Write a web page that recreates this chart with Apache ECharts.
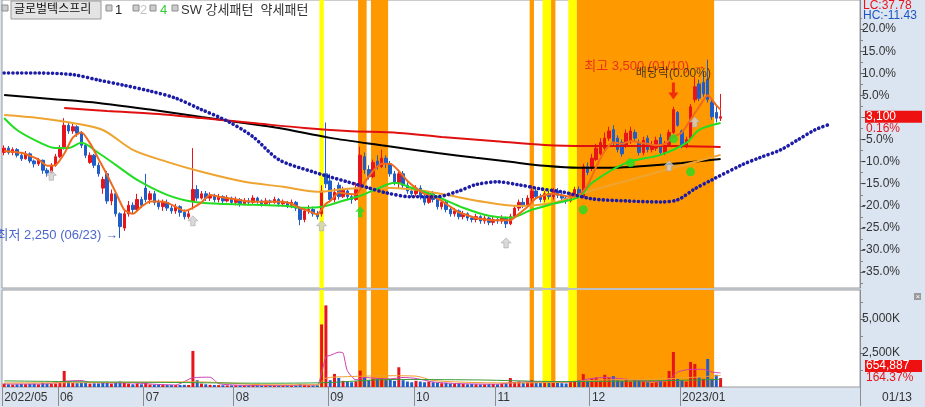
<!DOCTYPE html>
<html><head><meta charset="utf-8">
<script src="https://cdn.jsdelivr.net/npm/echarts@6/dist/echarts.min.js"></script>
<style>html,body{margin:0;padding:0;background:#dbe5f1}#c{width:925px;height:407px}</style>
</head><body><div id="c"></div><script>
// ---------- DATA ----------
const may = [13,16,17,18,19,20,23,24,25,26,27,30,31];
const jun = [2,3,7,8,9,10,13,14,15,16,17,20,21,22,23,24,27,28,29,30];
const jul = [1,4,5,6,7,8,11,12,13,14,15,18,19,20,21,22,25,26,27,28,29];
const aug = [1,2,3,4,5,8,9,10,11,12,16,17,18,19,22,23,24,25,26,29,30,31];
const sep = [1,2,5,6,7,8,13,14,15,16,19,20,21,22,23,26,27,28,29,30];
const oct = [4,5,6,7,11,12,13,14,17,18,19,20,21,24,25,26,27,28,31];
const nov = [1,2,3,4,7,8,9,10,11,14,15,16,17,18,21,22,23,24,25,28,29,30];
const dec = [1,2,5,6,7,8,9,12,13,14,15,16,19,20,21,22,23,26,27,28,29];
const jan = [2,3,4,5,6,9,10,11,12,13];

// [open, close, low, high]
const ohlc = [
[2850,2880,2830,2900],[2880,2850,2835,2895],[2850,2870,2830,2885],[2870,2830,2815,2880],[2830,2805,2790,2845],
[2805,2840,2800,2860],[2840,2790,2775,2850],[2790,2770,2745,2800],[2770,2795,2755,2810],[2795,2725,2700,2800],
[2725,2705,2680,2740],[2705,2760,2700,2775],[2760,2820,2750,2840],[2820,2880,2810,2900],[2880,3040,2870,3090],
[3040,3000,2980,3060],[3000,3030,2980,3050],[3030,2985,2960,3040],[2985,2900,2880,3000],[2900,2830,2810,2910],
[2780,2830,2770,2850],[2830,2760,2740,2840],[2760,2700,2680,2780],[2600,2660,2560,2680],[2700,2510,2490,2720],
[2510,2560,2480,2590],[2560,2420,2400,2570],[2420,2330,2250,2430],[2320,2420,2300,2440],[2420,2480,2400,2510],
[2480,2450,2420,2500],[2450,2520,2440,2560],[2520,2480,2460,2540],[2600,2520,2500,2700],[2520,2560,2490,2580],
[2560,2500,2480,2580],[2500,2470,2450,2520],[2470,2500,2440,2520],[2500,2460,2440,2520],[2460,2440,2420,2480],
[2440,2470,2420,2490],[2470,2430,2400,2480],[2430,2400,2380,2450],[2400,2420,2385,2440],[2510,2590,2450,2880],
[2590,2530,2510,2620],[2530,2560,2520,2580],[2560,2530,2510,2580],[2530,2550,2510,2570],[2550,2520,2500,2560],
[2520,2540,2500,2560],[2540,2510,2490,2550],[2510,2530,2500,2550],[2530,2500,2490,2540],[2500,2520,2480,2540],
[2520,2490,2470,2530],[2490,2510,2480,2530],[2510,2500,2480,2530],[2500,2530,2490,2550],[2530,2510,2490,2540],
[2510,2490,2470,2520],[2490,2510,2480,2530],[2510,2500,2480,2520],[2500,2520,2490,2540],[2520,2490,2470,2530],
[2490,2500,2470,2520],[2500,2480,2460,2510],[2480,2500,2460,2520],[2500,2460,2440,2510],[2460,2380,2340,2470],
[2380,2440,2360,2460],[2440,2450,2420,2480],[2450,2420,2400,2470],[2420,2400,2380,2440],[2420,2580,2400,2620],
[2700,2630,2600,3060],[2650,2520,2500,2700],[2520,2570,2500,2600],[2620,2540,2520,2640],[2540,2590,2530,2610],
[2580,2540,2520,2600],[2540,2520,2490,2560],[2520,2600,2510,2640],[2600,2830,2590,2890],[2820,2730,2700,2850],
[2730,2680,2660,2760],[2680,2780,2670,2800],[2790,2750,2730,2830],[2750,2810,2740,2870],[2810,2770,2740,2830],
[2770,2700,2680,2790],[2700,2640,2620,2720],[2640,2700,2600,2730],[2700,2620,2600,2720],[2620,2580,2560,2640],
[2580,2560,2540,2600],[2560,2600,2540,2620],[2600,2540,2520,2620],[2540,2500,2480,2560],[2500,2560,2490,2580],
[2560,2520,2500,2580],[2520,2470,2450,2530],[2470,2500,2450,2520],[2500,2450,2430,2510],[2450,2420,2400,2470],
[2420,2440,2400,2460],[2440,2400,2380,2450],[2400,2420,2380,2440],[2420,2390,2370,2430],[2390,2380,2360,2400],
[2380,2400,2360,2420],[2400,2370,2350,2410],[2370,2390,2350,2410],[2390,2360,2340,2400],[2360,2380,2340,2400],
[2380,2370,2350,2400],[2370,2390,2350,2410],[2390,2350,2320,2400],[2350,2400,2340,2420],[2400,2460,2390,2480],
[2460,2500,2440,2520],[2500,2480,2460,2530],[2480,2530,2470,2550],[2530,2580,2500,2620],[2580,2540,2520,2600],
[2540,2520,2500,2560],[2520,2560,2500,2580],[2560,2540,2520,2580],[2540,2580,2520,2600],[2580,2550,2530,2600],
[2550,2530,2510,2570],[2530,2510,2490,2550],[2510,2550,2500,2570],[2550,2590,2530,2610],[2590,2560,2540,2610],
[2540,2750,2530,2770],[2750,2710,2690,2780],
// December
[2740,2810,2720,2840],[2800,2880,2790,2910],[2840,2920,2830,2950],[2880,2950,2860,2990],[2950,3000,2930,3030],
[3010,2920,2900,3040],[2950,2870,2850,2970],[2920,2840,2820,2940],[2900,2985,2880,3010],[2930,3000,2910,3030],
[2990,2950,2930,3010],[2920,2850,2830,2940],[2850,2935,2830,2960],[2950,2870,2850,2970],[2870,2900,2850,2930],
[2880,2935,2860,2960],[2955,2850,2830,2980],[2850,2900,2830,2930],[2905,2990,2890,3010],[2990,3150,2980,3170],
[3130,3040,3030,3140],
// January
[3000,2900,2880,3010],[2900,2940,2880,2960],[2950,3170,2940,3190],[3220,3310,3200,3380],[3330,3230,3210,3360],
[3340,3260,3240,3420],[3360,3220,3200,3500],[3200,3100,3080,3230],[3130,3090,3060,3180],[3090,3100,3070,3260]
];
// volume, thousand shares
const volK = [
250,200,180,200,220,210,230,240,200,300,250,220,260,
320,1180,400,300,280,300,320,250,270,260,300,380,250,330,400,300,250,200,260,200,
300,180,170,160,150,150,140,140,150,160,150,2650,500,250,200,160,150,140,130,120,120,
130,120,110,110,130,120,110,100,100,110,110,100,110,100,130,220,160,120,120,130,4600,6000,
500,960,660,450,400,350,420,1200,700,500,600,600,650,500,550,450,1450,500,400,350,
450,400,350,400,350,300,280,300,250,230,250,220,200,220,200,190,200,210,220,
200,230,260,660,350,400,300,350,500,350,300,400,350,400,300,280,260,400,450,500,950,500,
600,700,500,900,700,800,500,450,550,400,500,450,400,350,300,350,450,400,1180,2570,600,
500,400,1840,1690,700,600,2060,600,900,654.887
];
// moving-average lines: [day index, price]
const ma5 = [[0,2860],[2,2855],[4,2847],[6,2827],[8,2800],[10,2757],[12,2761],[14,2841],[16,2954],[18,2991],[20,2915],[22,2804],[24,2692],[26,2570],[28,2448],[30,2420],[32,2470],[34,2506],[36,2506],[38,2498],[40,2468],[42,2440],[44,2462],[46,2500],[48,2552],[50,2540],[53,2525],[56,2510],[59,2505],[62,2505],[65,2505],[67,2490],[69,2460],[71,2440],[73,2415],[74,2450],[75,2490],[76,2510],[77,2540],[78,2570],[80,2560],[82,2555],[84,2640],[86,2720],[88,2770],[90,2770],[92,2720],[94,2650],[96,2600],[98,2560],[100,2540],[102,2510],[104,2470],[106,2430],[108,2410],[110,2390],[112,2380],[114,2375],[116,2375],[118,2375],[120,2420],[122,2470],[124,2530],[126,2550],[128,2560],[130,2550],[132,2540],[134,2550],[136,2620],[138,2750],[140,2860],[142,2920],[144,2910],[146,2930],[148,2920],[150,2910],[152,2900],[154,2910],[156,2960],[158,2990],[160,3080],[162,3170],[164,3250],[166,3180],[167,3150]];
const maGreen = [[0,3091],[3,3007],[8,2924],[12,2881],[15,2881],[18,2917],[22,2846],[26,2763],[31,2658],[38,2553],[44,2504],[50,2490],[58,2483],[65,2476],[70,2462],[74,2469],[79,2511],[83,2546],[88,2609],[91,2637],[95,2602],[101,2539],[107,2462],[113,2406],[118,2392],[123,2448],[128,2490],[134,2538],[137,2636],[145,2777],[153,2833],[159,2917],[162,3008],[167,3056]];
const maGold = [[0,3112],[8,3091],[16,3056],[23,3007],[30,2868],[38,2784],[46,2714],[56,2644],[65,2609],[73,2574],[80,2595],[88,2602],[96,2588],[103,2553],[112,2503],[120,2475],[128,2497],[136,2574],[146,2658],[156,2742],[167,2833]];
const maBlack = [[0,3252],[11,3225],[22,3197],[34,3150],[46,3098],[55,3060],[64,3021],[76,2952],[88,2900],[101,2846],[110,2812],[118,2784],[126,2756],[134,2742],[142,2742],[150,2756],[158,2776],[167,2804]];
const maRed = [[14,3162],[24,3140],[36,3119],[46,3091],[58,3056],[70,3021],[80,3000],[92,2986],[102,2958],[114,2930],[126,2902],[136,2895],[146,2895],[156,2895],[167,2888]];
const leadDots = [[0,3406],[8,3406],[16,3395],[22,3357],[28,3320],[34,3280],[40,3230],[46,3150],[52,3070],[58,2960],[64,2800],[72,2714],[80,2644],[85,2601],[89,2567],[95,2539],[101,2540],[106,2580],[110,2625],[115,2644],[120,2623],[125,2595],[130,2574],[137,2525],[145,2510],[153,2503],[157,2518],[161,2595],[165,2658],[172,2763],[176,2812],[181,2868],[185,2938],[189,3008],[192,3043]];
const volPink = [[0,220],[5,220],[10,230],[14,420],[18,480],[20,330],[25,300],[30,300],[35,200],[40,150],[44,680],[48,720],[50,250],[55,130],[60,115],[65,105],[70,140],[73,150],[74,1030],[75,2220],[76,2320],[78,2560],[79,2500],[80,1200],[82,530],[84,700],[87,630],[90,600],[93,700],[96,630],[100,370],[105,260],[110,220],[115,210],[118,320],[122,380],[126,380],[130,350],[134,420],[136,580],[140,700],[144,600],[148,470],[152,380],[155,550],[157,1100],[160,1300],[163,1300],[165,1100],[167,1030]];
const volOrange = [[0,300],[20,320],[44,380],[50,330],[60,170],[73,160],[75,650],[80,760],[90,830],[96,800],[100,480],[110,330],[120,300],[130,360],[140,520],[150,550],[160,700],[167,850]];
const volGreen = [[0,450],[20,380],[40,330],[60,280],[75,320],[90,550],[110,520],[130,400],[150,450],[167,560]];
// signal marks [day index, price]
const grayArrows = [[11,2690],[44,2371],[74,2336],[117,2216],[155,2756],[161,3064]];
const greenArrows = [[83,2434]];
const greenDots = [[135,2448],[146,2777],[156,2945],[160,2714]];
const exDivArrow = [[156,3280]];
// pattern bands (day index ranges)
const yellowBands = [[74,74],[126,127],[132,133]];
const orangeBands = [[83,84],[86,89],[123,123],[128,128],[134,165]];
// axis ticks
const pctTicks = [20,15,10,5,-5,-10,-15,-20,-25,-30,-35];
const pctMinor = [22.5,17.5,12.5,7.5,2.5,0,-2.5,-7.5,-12.5,-17.5,-22.5,-27.5,-32.5,-37.5];
const volTicks = [2500,5000];
const volMinor = [1250,3750,6250];
const prevClose = 3095, lowPrice = 2250, highPrice = 3500, lastClose = 3100, lastVolPct = '164.37%';

// ---------- BUILD ----------
const dates = [];
[['2022/05',may],['2022/06',jun],['2022/07',jul],['2022/08',aug],['2022/09',sep],['2022/10',oct],['2022/11',nov],['2022/12',dec],['2023/01',jan]]
  .forEach(([m, ds]) => ds.forEach(d => dates.push(m + '/' + String(d).padStart(2,'0'))));
const N = 200;
const cats = dates.slice();
for (let k = dates.length; k < N; k++) cats.push('+' + (k - dates.length + 1));
const monthLab = cats.map((c, i) => {
  if (i >= dates.length) return '';
  const prev = i ? dates[i-1] : '';
  if (prev.slice(0,7) === c.slice(0,7)) return '';
  return prev.slice(0,4) !== c.slice(0,4) ? c.slice(0,7) : c.slice(5,7);
});
const isMonth = (i) => monthLab[i] !== '';
const RED = '#e8141b', BLUE = '#1f5ec8';
const bandRanges = yellowBands.map(r => [r[0], r[1], 0]).concat(orangeBands.map(r => [r[0], r[1], 1]));
const bandRender = (params, api) => {
  const s = api.coord([api.value(0), 0]);
  const e = api.coord([api.value(1), 0]);
  const w = api.size([1, 0])[0];
  const cs = params.coordSys;
  return {type:'rect', shape:{x: s[0] - w/2, y: cs.y, width: e[0] - s[0] + w, height: cs.height},
          style:{fill: api.value(2) ? '#ff9900' : '#ffff00'}};
};
const volData = volK.map((v, i) => {
  const cur = ohlc[i] || ohlc[ohlc.length-1];
  const prv = i ? (ohlc[i-1] || cur) : null;
  const up = prv ? cur[1] >= prv[1] : cur[1] >= cur[0];
  return {value: v, itemStyle: {color: up ? RED : BLUE}};
});
const FONT = "'Liberation Sans','Noto Sans CJK KR',sans-serif";
const pct = v => ((v / prevClose - 1) * 100).toFixed(1) + '%';
const toPrice = p => prevClose * (1 + p / 100);
const arrowUp = 'path://M5,0 L10,5 L7.2,5 L7.2,10 L2.8,10 L2.8,5 L0,5 Z';
const arrowDown = 'path://M3.5,0 L6.5,0 L6.5,10 L10,10 L5,17 L0,10 L3.5,10 Z';

const chart = echarts.init(document.getElementById('c'));
const line = (name, data, color, width, extra) => Object.assign({
  type:'line', name, data, xAxisIndex:0, yAxisIndex:0, symbol:'none', smooth:0.3, z:3, silent:true,
  lineStyle:{color, width} }, extra || {});

const option = {
  animation: false,
  backgroundColor: '#dbe5f1',
  textStyle: {fontFamily: FONT},
  grid: [
    {left:2, right:65, top:0, height:288, show:true, backgroundColor:'#fff', borderColor:'#9a9a9a', borderWidth:1, outerBoundsMode:'none'},
    {left:2, right:65, top:290, height:97, show:true, backgroundColor:'#fff', borderColor:'#9a9a9a', borderWidth:1, outerBoundsMode:'none'}
  ],
  xAxis: [
    {type:'category', gridIndex:0, data:cats, boundaryGap:true, axisLine:{show:false}, axisTick:{show:false}, axisLabel:{show:false}},
    {type:'category', gridIndex:1, data:cats, boundaryGap:true, axisLine:{show:false},
     axisTick:{show:true, interval:isMonth, length:19, lineStyle:{color:'#8c8c8c'}},
     axisLabel:{show:true, interval:isMonth, formatter:(v,i)=>monthLab[i], align:'left', margin:5, color:'#333', fontSize:12, fontFamily:FONT}}
  ],
  yAxis: [
    {type:'value', gridIndex:0, position:'right', min:1900, max:3918, splitLine:{show:false},
     axisLine:{show:true, lineStyle:{color:'#8c8c8c'}},
     axisTick:{show:true, length:5, customValues: pctTicks.concat([0]).map(toPrice), lineStyle:{color:'#666'}},
     axisLabel:{show:true, customValues: pctTicks.map(toPrice), formatter: pct, color:'#333', fontSize:12, margin:2, fontFamily:FONT}},
    {type:'value', gridIndex:0, position:'right', min:1900, max:3918, splitLine:{show:false}, axisLine:{show:false},
     axisTick:{show:true, length:3, customValues: pctMinor.map(toPrice), lineStyle:{color:'#888'}}, axisLabel:{show:false}},
    {type:'value', gridIndex:0, min:0, max:1, show:false},
    {type:'value', gridIndex:1, position:'right', min:0, max:7130, splitLine:{show:false},
     axisLine:{show:true, lineStyle:{color:'#8c8c8c'}},
     axisTick:{show:true, length:5, customValues: volTicks, lineStyle:{color:'#666'}},
     axisLabel:{show:true, customValues: volTicks, formatter: v => v.toLocaleString('en-US') + 'K', color:'#333', fontSize:12, margin:2, fontFamily:FONT}},
    {type:'value', gridIndex:1, position:'right', min:0, max:7130, splitLine:{show:false}, axisLine:{show:false},
     axisTick:{show:true, length:3, customValues: volMinor, lineStyle:{color:'#888'}}, axisLabel:{show:false}},
    {type:'value', gridIndex:1, min:0, max:1, show:false}
  ],
  series: [
    {type:'custom', name:'bands', xAxisIndex:0, yAxisIndex:2, data:bandRanges, renderItem:bandRender, z:0, silent:true, encode:{x:[0,1], y:2}},
    {type:'custom', name:'bandsV', xAxisIndex:1, yAxisIndex:5, data:bandRanges, renderItem:bandRender, z:0, silent:true, encode:{x:[0,1], y:2}},
    {type:'candlestick', name:'price', xAxisIndex:0, yAxisIndex:0, data:ohlc, barWidth:3, z:2, silent:true,
     itemStyle:{color:RED, color0:BLUE, borderColor:RED, borderColor0:BLUE, borderWidth:1}},
    line('ma120', maBlack, '#000000', 2),
    line('ma240', maRed, '#e01010', 2),
    line('ma60', maGold, '#efa431', 2),
    line('ma20', maGreen, '#22dd22', 2),
    line('ma5', ma5, '#f26a1b', 2, {smooth:0.2}),
    line('lead', leadDots, '#1c1ca6', 3.6, {lineStyle:{color:'#1c1ca6', width:3.6, type:[0.1,4.3], cap:'round'}}),
    {type:'scatter', name:'gray', xAxisIndex:0, yAxisIndex:0, data:grayArrows, symbol:arrowUp, symbolSize:[10,10], z:4, silent:true,
     itemStyle:{color:'#cfcfcf', borderColor:'#a8a8a8', borderWidth:0.8}},
    {type:'scatter', name:'greenA', xAxisIndex:0, yAxisIndex:0, data:greenArrows, symbol:arrowUp, symbolSize:[10,11], z:4, silent:true,
     itemStyle:{color:'#22dd22'}},
    {type:'scatter', name:'greenD', xAxisIndex:0, yAxisIndex:0, data:greenDots, symbol:'circle', symbolSize:9, z:4, silent:true,
     itemStyle:{color:'#22dd22'}},
    {type:'scatter', name:'exdiv', xAxisIndex:0, yAxisIndex:0, data:exDivArrow, symbol:arrowDown, symbolSize:[10,17], z:4, silent:true,
     itemStyle:{color:'#ee1111'}},
    {type:'scatter', name:'notes', xAxisIndex:0, yAxisIndex:0, symbolSize:0, z:6, silent:true,
     data:[
      {value:[164, highPrice - 45], label:{show:true, position:'left', distance:2, formatter:'최고 3,500 (01/10) →', color:'#e8141b', fontSize:13}},
      {value:[27, lowPrice + 15], label:{show:true, position:'left', distance:2, formatter:'최저 2,250 (06/23) →', color:'#1a3fc0', fontSize:13}},
      {value:[156, 3405], label:{show:true, position:'inside', formatter:'배당락(0.00%)', color:'#222', fontSize:12}}
     ]},
    {type:'bar', name:'vol', xAxisIndex:1, yAxisIndex:3, data:volData, barWidth:3, z:2, silent:true},
    {type:'line', name:'vma5', xAxisIndex:1, yAxisIndex:3, data:volPink, symbol:'none', smooth:0.2, z:3, lineStyle:{color:'#cc3fb0', width:1}},
    {type:'line', name:'vma20', xAxisIndex:1, yAxisIndex:3, data:volOrange, symbol:'none', smooth:0.3, z:3, lineStyle:{color:'#f0a030', width:1}},
    {type:'line', name:'vma60', xAxisIndex:1, yAxisIndex:3, data:volGreen, symbol:'none', smooth:0.3, z:3, lineStyle:{color:'#3a9a3a', width:1}}
  ]
};
chart.setOption(option);

// ---------- text overlays ----------
const T = (x, y, text, fill, size, extra) => Object.assign({type:'text', x, y, z:100,
  style:{text, fill, font: (size||12) + 'px ' + FONT, verticalAlign:'middle'}}, extra || {});
const sq = x => ({type:'rect', z:100, shape:{x, y:5, width:6, height:6}, style:{fill:'#cdcdcd', stroke:'#8e8e8e', lineWidth:1}});
const yC = chart.convertToPixel({yAxisIndex:0}, lastClose);
const yV = Math.min(chart.convertToPixel({yAxisIndex:3}, volK[volK.length-1]), 387 - 21);
const graphics = [
  sq(2),
  {type:'rect', z:100, shape:{x:11, y:1, width:90, height:18}, style:{fill:'#e4e4e4', stroke:'#9a9a9a', lineWidth:1}},
  T(14, 10, '글로벌텍스프리', '#111', 12),
  sq(106), T(115, 10, '1', '#222', 13),
  sq(133), T(140, 10, '2', '#c4c4c4', 13),
  sq(150), T(160, 10, '4', '#33cc33', 13),
  sq(172), T(181, 10, 'SW 강세패턴  약세패턴', '#333', 13),
  {type:'rect', z:100, shape:{x:862, y:0, width:62, height:21}, style:{fill:'#dbe5f1'}},
  T(863, 6, 'LC:37.78', '#e8141b', 12),
  T(863, 16, 'HC:-11.43', '#1f55c0', 12),
  {type:'rect', z:100, shape:{x:865, y:yC-6, width:57, height:12}, style:{fill:'#ee1111'}},
  T(866, yC, lastClose.toLocaleString('en-US'), '#fff', 12),
  T(866, yC + 12, ((lastClose/prevClose-1)*100).toFixed(2) + '%', '#e8141b', 12),
  {type:'rect', z:100, shape:{x:865, y:yV-6, width:57, height:12}, style:{fill:'#ee1111'}},
  T(866, yV, Math.round(volK[volK.length-1]*1000).toLocaleString('en-US'), '#fff', 12),
  T(866, yV + 12, lastVolPct, '#e8141b', 12),
  {type:'rect', z:100, shape:{x:914, y:293, width:7, height:7}, style:{fill:'#9a9a9a'}},
  T(915.5, 296.5, '×', '#fff', 8),
  T(882, 398, '01/13', '#333', 12)
];
chart.setOption({graphic: graphics});
</script></body></html>
